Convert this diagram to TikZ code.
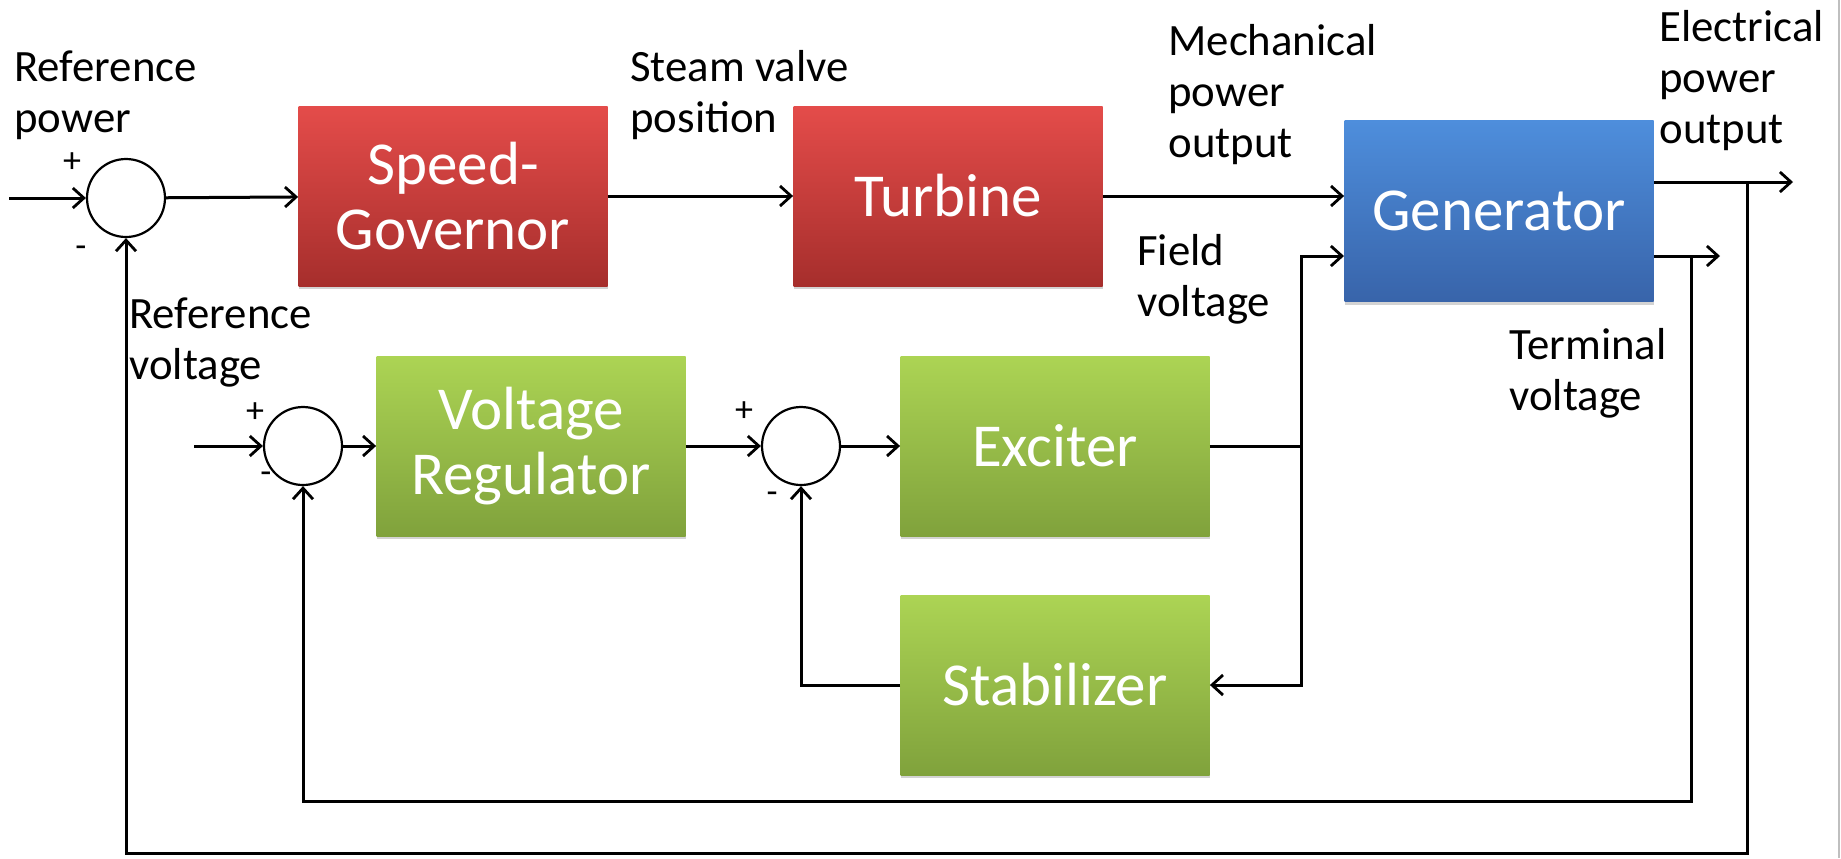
\documentclass[tikz,border=0pt]{standalone}
\usepackage{fontspec}
\setmainfont{Carlito}
\usetikzlibrary{arrows.meta,shadows}

\definecolor{redtop}{RGB}{228,76,74}
\definecolor{redbot}{RGB}{166,46,44}
\definecolor{bluetop}{RGB}{78,142,220}
\definecolor{bluebot}{RGB}{56,100,170}
\definecolor{greentop}{RGB}{172,212,84}
\definecolor{greenbot}{RGB}{128,162,60}

\tikzset{
  block/.style={rectangle, minimum width=154.5pt, minimum height=90pt, inner sep=0pt,
    text=white, align=center, font=\fontsize{30.5}{32.5}\selectfont,
    drop shadow={shadow xshift=0pt, shadow yshift=-1.5pt, opacity=0.35}},
  redblock/.style={block, top color=redtop, bottom color=redbot},
  blueblock/.style={block, top color=bluetop, bottom color=bluebot},
  greenblock/.style={block, top color=greentop, bottom color=greenbot},
  sumnode/.style={circle, draw, line width=1.1pt, minimum size=39pt, inner sep=0pt},
  conn/.style={line width=1.5pt, -{Straight Barb[length=5.5pt,width=10pt,line width=1.4pt]}},
  wire/.style={line width=1.5pt},
  lbl/.style={anchor=north west, inner sep=0pt, align=left, font=\fontsize{22.4}{25.5}\selectfont},
  sgn/.style={inner sep=0pt, font=\fontsize{18}{18}\selectfont}
}

\begin{document}
\begin{tikzpicture}[x=0.5pt, y=-0.5pt]
    \useasboundingbox (0,0) rectangle (1841,858);
    \draw[gray!50, line width=0.6pt] (1839,0) -- (1839,858);

    % blocks and summing points
    \node[sumnode] (sp) at (126,198) {};
    \node[redblock] (gov) at (453,196) {Speed-\\Governor};
    \node[redblock] (tur) at (948,196) {Turbine};
    \node[blueblock, minimum height=90.5pt] (gen) at (1499,211) {Generator};
    \node[sumnode] (sv) at (303,446) {};
    \node[greenblock] (reg) at (531,446) {Voltage\\Regulator};
    \node[sumnode] (sx) at (801,446) {};
    \node[greenblock] (exc) at (1055,446) {Exciter};
    \node[greenblock] (stab) at (1055,685) {Stabilizer};

    \coordinate (pin) at (9,198);
    \coordinate (vin) at (194,446);
    \coordinate (fieldin) at (1344,256);
    \coordinate (fv) at (1301,446);
    \coordinate (pout) at (1793,182);
    \coordinate (vout) at (1720,256);
    \coordinate (ptap) at (1747,182);
    \coordinate (vtap) at (1691,256);
    \coordinate (pbot) at (0,853);
    \coordinate (vbot) at (0,801);

    % forward paths
    \draw[conn] (pin) -- (sp);
    \draw[conn] (sp) -- (gov);
    \draw[conn] (gov) -- (tur);
    \draw[conn] (tur) -- (tur -| gen.west);
    \draw[conn] (vin) -- (sv);
    \draw[conn] (sv) -- (reg);
    \draw[conn] (reg) -- (sx);
    \draw[conn] (sx) -- (exc);
    \draw[wire] (exc) -- (fv);
    \draw[conn] (fv) |- (fieldin);
    \draw[conn] (fv) |- (stab.east);
    \draw[conn] (stab) -| (sx.south);
    \draw[conn] (gen.east |- pout) -- (pout);
    \draw[conn] (gen.east |- vout) -- (vout);

    % feedback loops
    \draw[conn] (ptap) -- (ptap |- pbot) -| (sp.south);
    \draw[conn] (vtap) -- (vtap |- vbot) -| (sv.south);

    % signs
    \node[sgn] (sp+) at (72,163) {+};
    \node[sgn] (sp-) at (81,252) {-};
    \node[sgn] (sv+) at (255,413) {+};
    \node[sgn] (sv-) at (266,478) {-};
    \node[sgn] (sx+) at (744,412) {+};
    \node[sgn] (sx-) at (772,498) {-};

    % labels
    \node[lbl] (refp) at (14,50) {Reference\\power};
    \node[lbl] (steam) at (630,50) {Steam valve\\position};
    \node[lbl] (mech) at (1168,24) {Mechanical\\power\\output};
    \node[lbl] (elec) at (1659,10) {Electrical\\power\\output};
    \node[lbl] (field) at (1137,234) {Field\\voltage};
    \node[lbl] (term) at (1509,328) {Terminal\\voltage};
    \node[lbl] (refv) at (129,297) {Reference\\voltage};
\end{tikzpicture}
\end{document}
